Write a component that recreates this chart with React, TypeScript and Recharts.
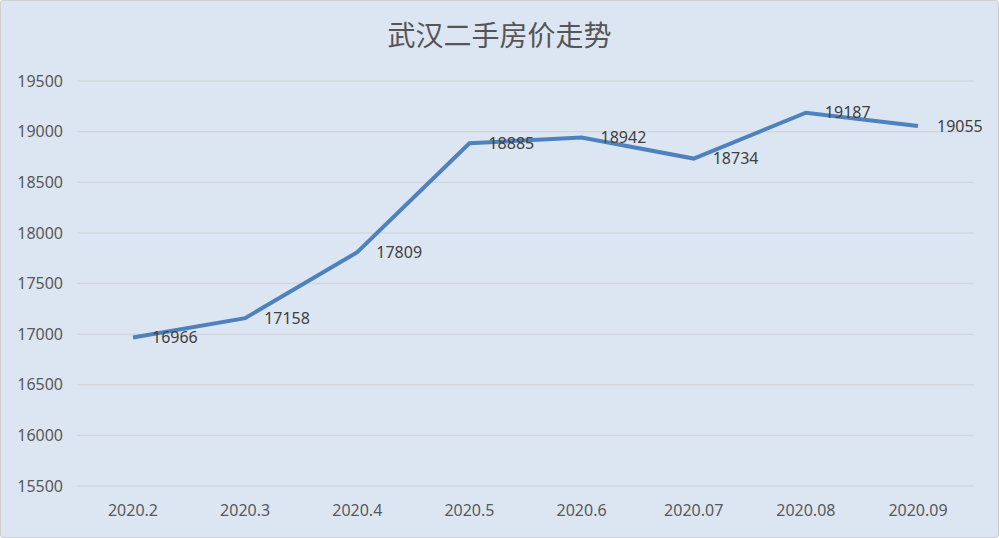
import React from 'react';
import { LineChart, Line, XAxis, YAxis, CartesianGrid, LabelList } from 'recharts';

const months = ['2020.2', '2020.3', '2020.4', '2020.5', '2020.6', '2020.07', '2020.08', '2020.09'];
const prices = [16966, 17158, 17809, 18885, 18942, 18734, 19187, 19055];
const yTicks = [15500, 16000, 16500, 17000, 17500, 18000, 18500, 19000, 19500];

const chartData = months.map((m, i) => ({ month: m, price: prices[i] }));

const FONT = '"Noto Sans", "Noto Sans CJK SC", sans-serif';

const PriceLabel = (props: any) => {
  const { x, y, value } = props;
  return (
    <text x={x + 19} y={y - 0.5} dominantBaseline="central" textAnchor="start" fontSize={16} fill="#404040" fontFamily={FONT}>
      {value}
    </text>
  );
};

const App: React.FC = () => {
  return (
    <div
      style={{
        position: 'relative',
        width: 999,
        height: 538,
        boxSizing: 'border-box',
        background: '#dce6f2',
        border: '1px solid #d0d0d0',
        borderRadius: 3,
        fontFamily: FONT,
      }}
    >
      <style>{'body{margin:0}'}</style>
      <div
        style={{
          position: 'absolute',
          top: 13,
          left: 0,
          width: '100%',
          textAlign: 'center',
          fontSize: 28,
          color: '#555555',
          fontFamily: '"Noto Sans CJK SC", sans-serif',
        }}
      >
        武汉二手房价走势
      </div>
      <LineChart
        width={997}
        height={536}
        data={chartData}
        margin={{ top: 80, right: 24, bottom: 21, left: 0 }}
        style={{ position: 'absolute', top: 0, left: 0 }}
      >
        <CartesianGrid vertical={false} stroke="#d3d7dd" strokeWidth={1.5} />
        <XAxis
          dataKey="month"
          height={30}
          axisLine={false}
          tickLine={false}
          tickSize={0}
          tickMargin={19}
          padding={{ left: 56, right: 56 }}
          tick={{ fontSize: 16, fill: '#595959', fontFamily: FONT }}
          interval={0}
        />
        <YAxis
          width={76}
          domain={[15500, 19500]}
          ticks={yTicks}
          axisLine={false}
          tickLine={false}
          tickSize={0}
          tickMargin={14}
          tick={{ fontSize: 16, fill: '#595959', fontFamily: FONT }}
        />
        <Line
          type="linear"
          dataKey="price"
          stroke="#4f81bd"
          strokeWidth={4}
          dot={false}
          activeDot={false}
          isAnimationActive={false}
        >
          <LabelList dataKey="price" content={<PriceLabel />} />
        </Line>
      </LineChart>
    </div>
  );
};

export default App;
